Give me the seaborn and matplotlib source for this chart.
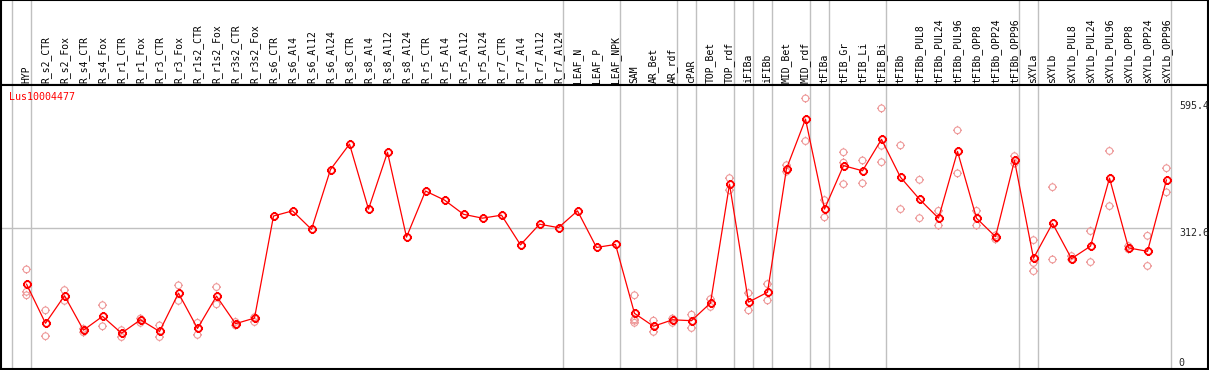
import matplotlib
matplotlib.use("Agg")
import matplotlib.pyplot as plt
import matplotlib.transforms as mtransforms
from matplotlib.path import Path
import numpy as np
import pandas as pd
import seaborn as sns

gene = "Lus10004477"

samples = [
    "HYP", "R_s2_CTR", "R_s2_Fox", "R_s4_CTR", "R_s4_Fox", "R_r1_CTR", "R_r1_Fox",
    "R_r3_CTR", "R_r3_Fox", "R_r1s2_CTR", "R_r1s2_Fox", "R_r3s2_CTR", "R_r3s2_Fox",
    "R_s6_CTR", "R_s6_Al4", "R_s6_Al12", "R_s6_Al24", "R_s8_CTR", "R_s8_Al4",
    "R_s8_Al12", "R_s8_Al24", "R_r5_CTR", "R_r5_Al4", "R_r5_Al12", "R_r5_Al24",
    "R_r7_CTR", "R_r7_Al4", "R_r7_Al12", "R_r7_Al24", "LEAF_N", "LEAF_P", "LEAF_NPK",
    "SAM", "AR_Bet", "AR_rdf", "cPAR", "TOP_Bet", "TOP_rdf", "iFIBa", "iFIBb",
    "MID_Bet", "MID_rdf", "tFIBa", "tFIB_Gr", "tFIB_Li", "tFIB_Bi", "tFIBb",
    "tFIBb_PUL8", "tFIBb_PUL24", "tFIBb_PUL96", "tFIBb_OPP8", "tFIBb_OPP24",
    "tFIBb_OPP96", "sXYLa", "sXYLb", "sXYLb_PUL8", "sXYLb_PUL24", "sXYLb_PUL96",
    "sXYLb_OPP8", "sXYLb_OPP24", "sXYLb_OPP96",
]

means = [
    183, 92, 156, 76, 108, 69, 100, 73, 162, 80, 155, 91, 104,
    341, 353, 310, 449, 508, 357, 489, 292, 399, 378, 345, 336,
    343, 274, 322, 314, 353, 268, 275,
    115, 85, 100, 98, 139, 415, 141, 164, 451, 566,
    357, 458, 446, 519, 431, 380, 336, 491, 336, 293, 470,
    243, 324, 242, 271, 429, 267, 259, 425,
]

replicates = [
    [217, 165, 157], [122, 62], [169, 144], [79, 71], [134, 85], [76, 60],
    [103, 93], [87, 60], [180, 144], [93, 65], [176, 136], [95, 87], [106, 95],
    [], [], [], [], [], [], [], [], [], [], [], [], [], [], [], [], [], [], [],
    [157, 101, 98, 93], [98, 72], [103, 93], [112, 81], [148, 130], [429, 401],
    [162, 122], [183, 145], [459, 444], [614, 515],
    [378, 338], [489, 465, 415], [470, 417], [591, 504, 466], [505, 357],
    [425, 336], [353, 319], [540, 440], [353, 319], [296, 287], [480, 463],
    [285, 232, 213], [408, 240], [248, 240], [306, 234], [492, 364],
    [271, 264], [295, 225], [452, 396],
]

# group separators are drawn just after these sample indices
group_ends = [-1, 0, 28, 31, 34, 35, 37, 38, 39, 41, 42, 45, 52, 53, 60]

y_max = 595.4
y_mid = 312.6

df_mean = pd.DataFrame({"idx": np.arange(len(samples)), "value": means})
df_rep = pd.DataFrame(
    [(i, v) for i, reps in enumerate(replicates) for v in reps],
    columns=["idx", "value"],
)

# circle with four small ticks, like the old applet marker
circ = Path.unit_circle()
ticks = Path(
    [(1, 0), (1.35, 0), (-1, 0), (-1.35, 0), (0, 1), (0, 1.35), (0, -1), (0, -1.35)],
    [Path.MOVETO, Path.LINETO] * 4,
)
ring = Path.make_compound_path(circ, ticks)

sns.set_style("white")
plt.rcParams["font.family"] = ["DejaVu Sans Mono"]

W, H = 1209, 370
fig = plt.figure(figsize=(W / 100, H / 100), dpi=100)
ax_head = fig.add_axes([1 / W, (H - 85) / H, 1207 / W, 85 / H])
ax = fig.add_axes([1 / W, 1 / H, 1207 / W, 284 / H], sharex=ax_head)

x_lo = (1 - 26.5) / 19
x_hi = (1208 - 26.5) / 19
ax.set_xlim(x_lo, x_hi)
ax.set_ylim(-14.2, 645.2)
ax_head.set_ylim(0, 1)

for a in (ax_head, ax):
    a.set_xticks([])
    a.set_yticks([])
    for s in a.spines.values():
        s.set_color("black")
        s.set_linewidth(1.5)
    for g in group_ends:
        a.axvline(g + 0.22, color="#c0c0c0", lw=1, zorder=0)

# sample names in the header
for i, name in enumerate(samples):
    ax_head.text(i, 0.025, name, rotation=90, ha="center", va="bottom",
                 fontsize=7, color="black")

ax.hlines(y_mid, x_lo, 60.22, color="#c0c0c0", lw=1, zorder=0)

sns.scatterplot(data=df_rep, x="idx", y="value", ax=ax, marker=ring, s=42,
                facecolor="none", edgecolor="#ee9a9a", linewidth=0.8,
                color="#ee9a9a", zorder=2, legend=False)
sns.lineplot(data=df_mean, x="idx", y="value", ax=ax, color="red", lw=0.9,
             marker=ring, markersize=6.5, mfc="none", mec="red", mew=1.3,
             zorder=3, legend=False)
ax.set_xlabel("")
ax.set_ylabel("")

ax.text(-0.92, 618, gene, color="red", fontsize=7.2, ha="left", va="center")
ax.text(60.65, y_max, f"{y_max}", fontsize=7.2, ha="left", va="center")
ax.text(60.65, y_mid, f"{y_mid}", fontsize=7.2, ha="left", va="top")
ax.text(60.65, 0, "0", fontsize=7.2, ha="left", va="center")

fig.savefig("out.png", dpi=100)
